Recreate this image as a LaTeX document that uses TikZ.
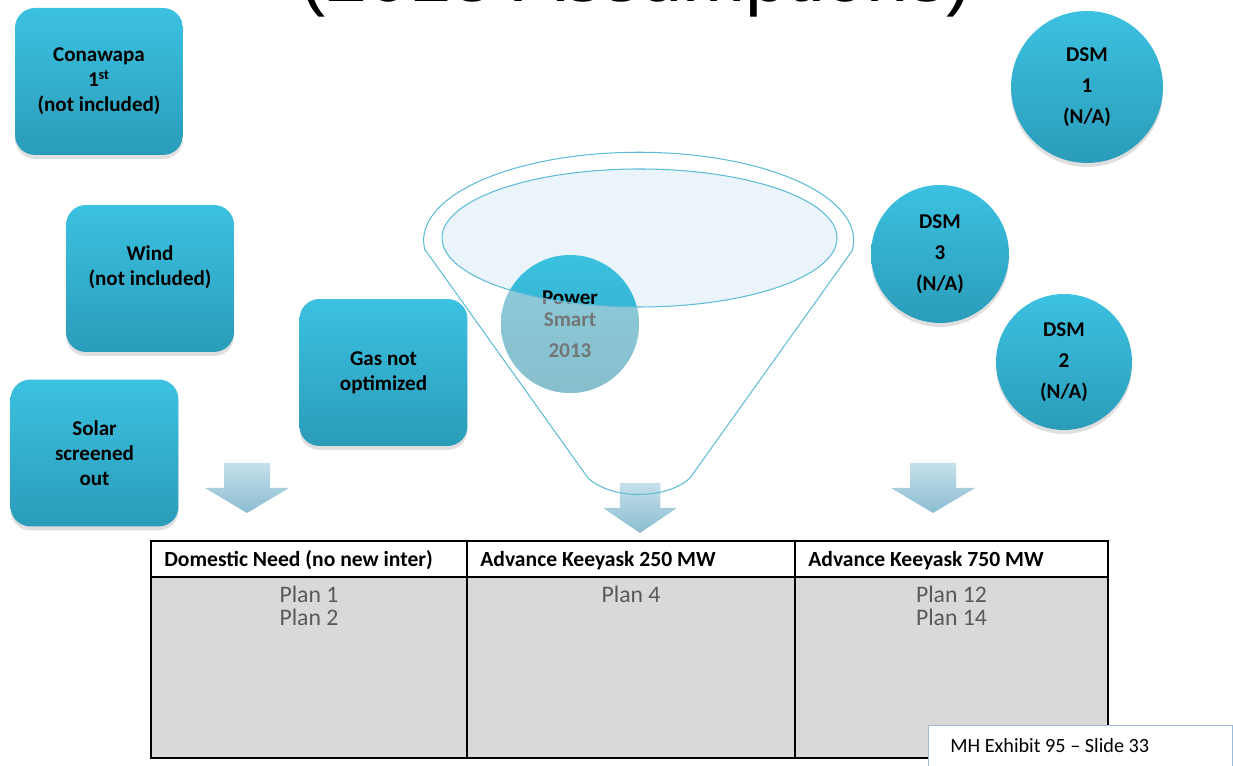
\documentclass[tikz,border=0pt]{standalone}
\usepackage{fontspec}
\setmainfont{Carlito}
\newfontfamily\headfont{Liberation Sans}
\usepackage{xcolor}
\usepackage{tikz}
\usetikzlibrary{positioning,shadows}

\definecolor{boxtop}{HTML}{3CC1E1}
\definecolor{boxbot}{HTML}{2A9CB9}
\definecolor{funnelline}{HTML}{5FBCD8}
\definecolor{funnelfill}{HTML}{EAF4FA}
\definecolor{arrowtop}{HTML}{C4E0EB}
\definecolor{arrowbot}{HTML}{8CBDD1}
\definecolor{cellgray}{HTML}{D9D9D9}
\definecolor{tagline}{HTML}{9CBCDA}
\definecolor{fadegray}{HTML}{D2D6D8}

\begin{document}
\begin{tikzpicture}[x=0.02cm, y=0.02cm, node distance = 0.3em]
            \tikzstyle{optbox} = [rounded corners=0.4cm, top color=boxtop, bottom color=boxbot, minimum width=3.36cm, minimum height=2.94cm, align=center, font=\bfseries\fontsize{12}{14.2}\selectfont, drop shadow={opacity=0.25, shadow xshift=0pt, shadow yshift=-0.08cm}];
            \tikzstyle{dsm} = [circle, top color=boxtop, bottom color=boxbot, inner sep=0pt, align=center, font=\bfseries\fontsize{12}{17.6}\selectfont, drop shadow={opacity=0.25, shadow xshift=0pt, shadow yshift=-0.08cm}];
            \tikzstyle{downarrow} = [top color=arrowtop, bottom color=arrowbot];
            \tikzstyle{colhead} = [anchor=base west, inner sep=0pt, font=\bfseries\fontsize{12.3}{14}\selectfont];
            \tikzstyle{plans} = [anchor=north, align=center, inner sep=0pt, text=black!65, font=\fontsize{13.5}{13}\selectfont];
            \useasboundingbox (0,0) rectangle (1233,766);
            \clip (0,0) rectangle (1233,766);

            \node [anchor=base, font=\headfont\fontsize{43}{50}\selectfont] (title) at (636,764) {(2013 Assumptions)};

            % options left of the funnel
            \node [optbox] (conawapa) at (99,684.5) {Conawapa\\1\textsuperscript{st}\\(not included)};
            \node [optbox] (wind) at (150,487.5) {Wind\\(not included)\\{}};
            \node [optbox] (solar) at (94.5,313) {Solar\\screened\\out};
            \node [optbox] (gas) at (383.5,393.5) {Gas not\\optimized};

            % DSM options
            \node [dsm, minimum size=3.04cm] (dsm1) at (1087,679) {DSM\\1\\(N/A)};
            \node [dsm, minimum size=2.76cm] (dsm3) at (940,512) {DSM\\3\\(N/A)};
            \node [dsm, minimum size=2.72cm] (dsm2) at (1064,404) {DSM\\2\\(N/A)};

            % funnel
            \fill [funnelfill] (639.5,528) ellipse (197.5 and 69);
            \node [circle, top color=boxtop, bottom color=boxbot!80!boxtop, minimum size=2.76cm, inner sep=0pt, align=center, font=\bfseries\fontsize{12}{12.5}\selectfont] (ps) at (570,442) {Power\\Smart\\[5pt]2013};
            \begin{scope}
                \clip (ps.center) circle (69);
                \fill [fadegray, opacity=0.55, even odd rule] (490,360) rectangle (650,520) (639.5,528) ellipse (197.5 and 69);
            \end{scope}

            \foreach \ax/\ay/\s in {247/303/1, 640/283/0.88, 933/303/1}
                \shade [downarrow] (\ax-23*\s,\ay) -- (\ax+23*\s,\ay) -- (\ax+23*\s,\ay-25) -- (\ax+42*\s,\ay-25) -- (\ax,\ay-50) -- (\ax-42*\s,\ay-25) -- (\ax-23*\s,\ay-25) -- cycle;

            \draw [funnelline, line width=0.6pt] (639.5,528) ellipse (197.5 and 69);
            \draw [funnelline, line width=0.6pt] (426,515) -- (588,288) .. controls (612,266) and (666,266) .. (690,288) -- (852,515) arc [start angle=-7, end angle=187, x radius=215, y radius=88] -- cycle;

            % plan table
            \fill [cellgray] (151,8) rectangle (1108,189);
            \draw [line width=0.6pt] (151,8) rectangle (1108,225);
            \draw [line width=0.6pt] (467,8) -- (467,225) (795,8) -- (795,225);
            \draw [line width=1.6pt] (151,189) -- (1108,189);
            \node [colhead] (col1) at (164,199) {Domestic Need (no new inter)};
            \node [colhead] (col2) at (480,199) {Advance Keeyask 250 MW};
            \node [colhead] (col3) at (808,199) {Advance Keeyask 750 MW};
            \node [plans] (plan1) at (309,180) {Plan 1\\Plan 2};
            \node [plans] (plan2) at (631,180) {Plan 4};
            \node [plans] (plan3) at (951.5,180) {Plan 12\\Plan 14};

            \draw [tagline, fill=white] (928,-3) rectangle (1232,41);
            \node [anchor=base west, inner sep=0pt, font=\fontsize{11.5}{13}\selectfont] (tag) at (950,13) {MH Exhibit 95 – Slide 33};
        \end{tikzpicture}
\end{document}
